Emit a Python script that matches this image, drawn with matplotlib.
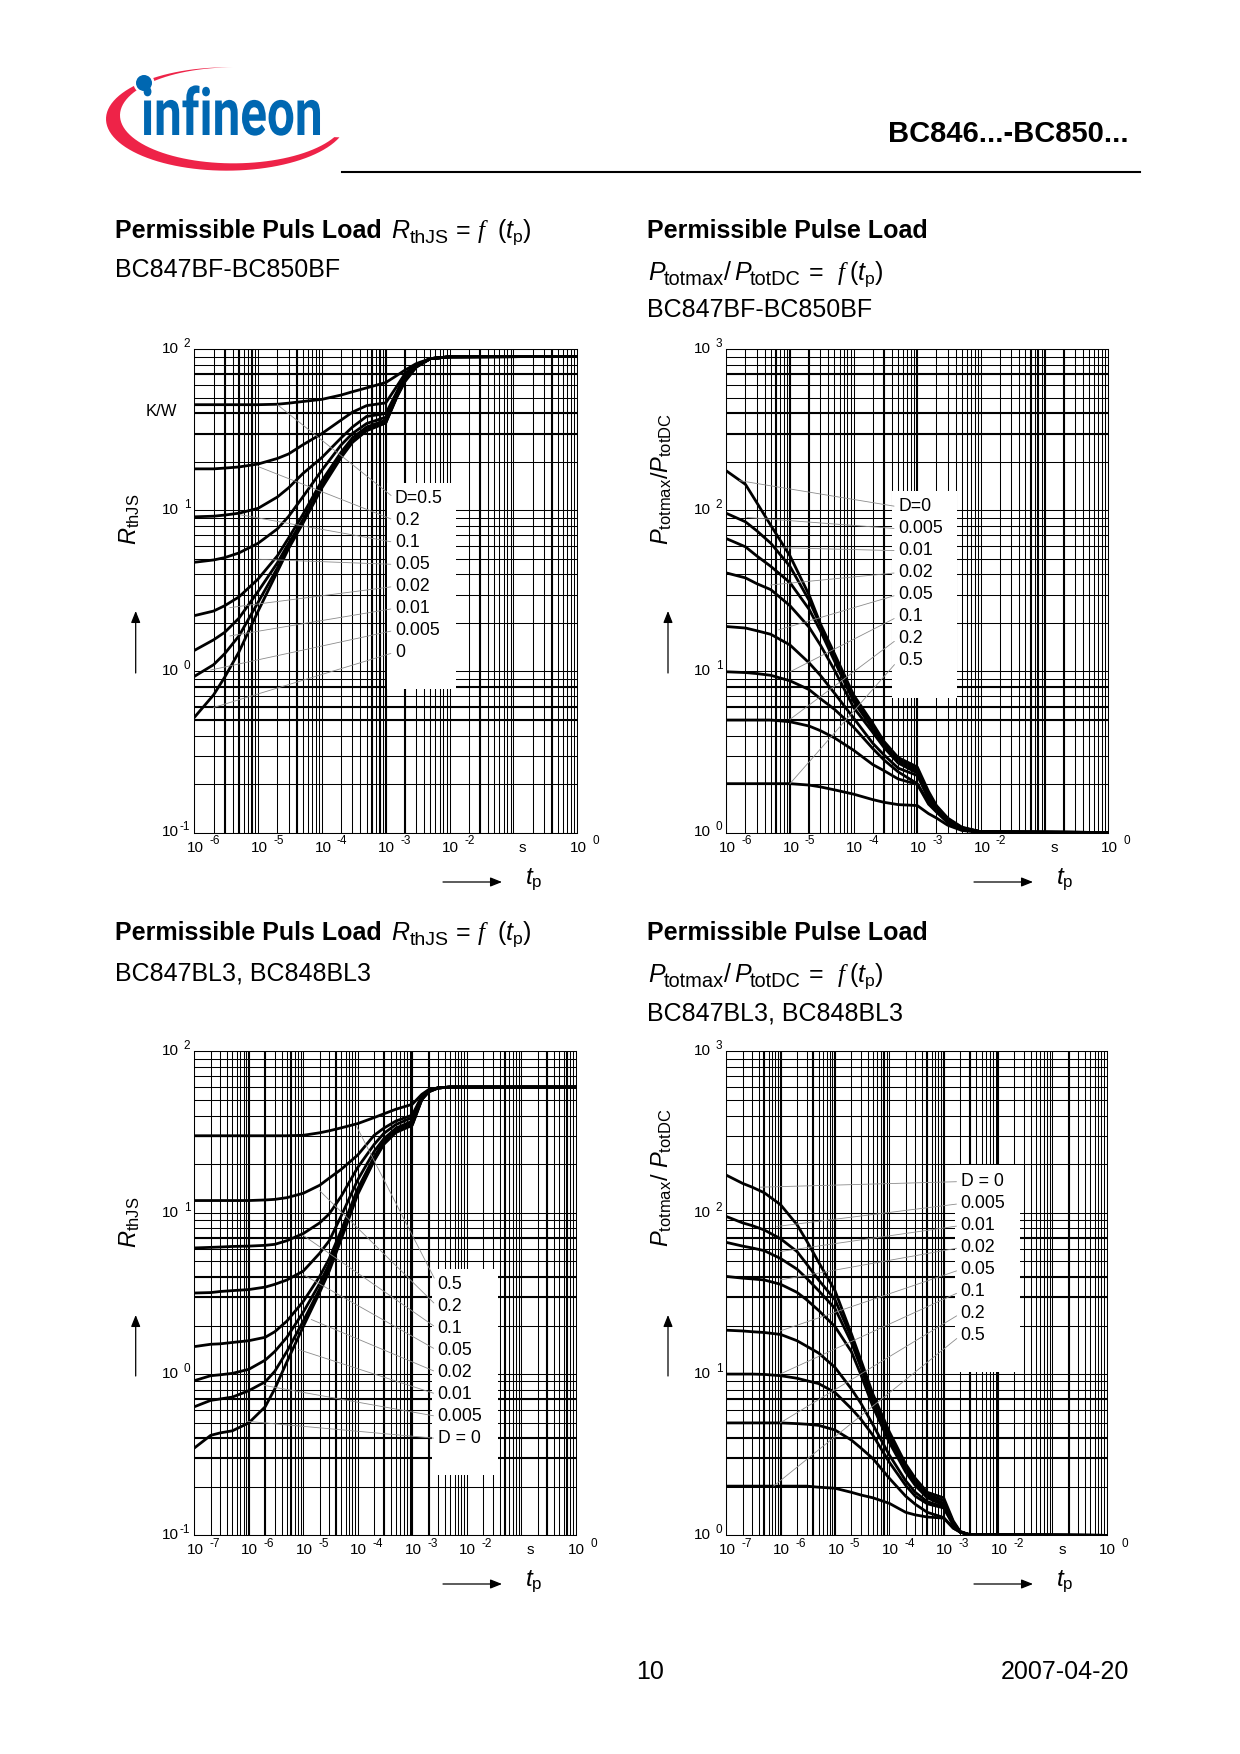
import matplotlib
matplotlib.use('Agg')
import matplotlib.pyplot as plt
import matplotlib.patheffects as pe
from matplotlib.patches import Circle, FancyArrowPatch, Rectangle
from matplotlib.ticker import LogLocator
from matplotlib.transforms import Affine2D
import numpy as np

plt.rcParams['font.family'] = ['Liberation Sans', 'DejaVu Sans']
plt.rcParams['mathtext.fontset'] = 'custom'
plt.rcParams['mathtext.rm'] = 'Liberation Sans'
plt.rcParams['mathtext.it'] = 'Liberation Sans:italic'
plt.rcParams['mathtext.bf'] = 'Liberation Sans:bold'

# pulse widths the curves were read at, seconds
T_BF = [1e-6, 2e-6, 3e-6, 5e-6, 1e-5, 2e-5, 3e-5, 5e-5, 1e-4, 2e-4, 3e-4, 5e-4, 1e-3,
        1.5e-3, 2e-3, 3e-3, 5e-3, 1e-2, 1]
T_L3_R = [1e-7, 2e-7, 3e-7, 5e-7, 1e-6, 2e-6, 3e-6, 5e-6, 1e-5, 2e-5, 3e-5, 5e-5, 1e-4,
          2e-4, 3e-4, 5e-4, 1e-3, 1.5e-3, 2e-3, 3e-3, 5e-3, 1]
T_L3_P = [1e-7, 2e-7, 3e-7, 5e-7, 1e-6, 2e-6, 3e-6, 5e-6, 1e-5, 2e-5, 3e-5, 5e-5, 1e-4,
          2e-4, 3e-4, 5e-4, 1e-3, 1.5e-3, 2e-3, 3e-3, 1]

# BC847BF thermal resistance, D = 0.5 ... 0
R_BF = [
    [45.3, 45.3, 45.3, 45.3, 45.3, 45.6, 46.3, 47.4, 48.9, 52, 54.5, 57.6, 62.2, 68.9, 74.3, 81.5, 87.5, 89.8, 90.3],
    [18.1, 18.1, 18.3, 18.6, 19.4, 21, 22.4, 25.5, 30, 36.4, 40.7, 44.7, 46.5, 59.2, 70.6, 80.3, 87.5, 89.8, 90.3],
    [9.12, 9.2, 9.35, 9.6, 10.3, 12.1, 13.8, 16.9, 21.3, 28.2, 32.9, 38.3, 39.9, 54.7, 68.9, 79.4, 87.5, 89.8, 90.3],
    [4.76, 4.92, 5.09, 5.44, 6.25, 7.67, 9.17, 12.1, 17.8, 25.5, 30, 34.6, 37.9, 53.3, 67.1, 79.1, 87.5, 89.8, 90.3],
    [2.22, 2.37, 2.56, 2.9, 3.75, 5.22, 6.74, 9.4, 15.3, 23, 28.2, 32.9, 36.4, 52, 65.5, 78.3, 87.5, 89.8, 90.3],
    [1.35, 1.57, 1.75, 2.14, 3.14, 4.72, 6.25, 8.71, 14.5, 22.1, 27, 32.1, 35.5, 51.5, 64.4, 78.3, 87.5, 89.8, 90.3],
    [0.931, 1.1, 1.29, 1.66, 2.69, 4.38, 5.94, 8.5, 14.2, 21.8, 26.8, 31.5, 35.1, 51.3, 63.8, 77.8, 87.5, 89.8, 90.3],
    [0.518, 0.714, 0.922, 1.32, 2.37, 4.16, 5.79, 8.28, 13.8, 21.3, 26.4, 31.2, 34.9, 50.7, 63.1, 77.4, 87.5, 89.8, 90.3],
]
# BC847BF power ratio, D = 0 ... 0.5
P_BF = [
    [176, 145, 112, 80.7, 52.2, 29.8, 19.8, 12.9, 7.14, 4.75, 3.68, 2.92, 2.55, 1.8, 1.47, 1.23, 1.08, 1.01, 1],
    [95.9, 84.9, 74.8, 62.5, 44.9, 27.6, 19.3, 12.2, 6.78, 4.51, 3.58, 2.85, 2.47, 1.75, 1.45, 1.21, 1.07, 1.01, 1],
    [66.8, 59.4, 52.2, 44.9, 35.6, 24.3, 17.9, 11.6, 6.51, 4.4, 3.49, 2.77, 2.42, 1.73, 1.43, 1.21, 1.07, 1.01, 1],
    [40.9, 38.1, 35.1, 32.2, 25.6, 18.8, 14.6, 10.2, 5.97, 4.18, 3.37, 2.7, 2.34, 1.69, 1.42, 1.2, 1.06, 1.01, 1],
    [19, 18.6, 17.9, 17, 14.6, 11.3, 9.46, 7.33, 5.13, 3.58, 3.03, 2.51, 2.26, 1.62, 1.39, 1.18, 1.06, 1.01, 1],
    [9.95, 9.84, 9.7, 9.46, 8.75, 7.71, 6.78, 5.82, 4.51, 3.32, 2.82, 2.38, 2.01, 1.54, 1.36, 1.17, 1.05, 1.01, 1],
    [4.99, 4.99, 4.99, 4.99, 4.87, 4.58, 4.29, 3.87, 3.24, 2.64, 2.42, 2.15, 1.99, 1.5, 1.34, 1.15, 1.04, 1.01, 1],
    [2.01, 2.01, 2.01, 2.01, 2.01, 1.97, 1.92, 1.84, 1.73, 1.6, 1.54, 1.49, 1.47, 1.31, 1.23, 1.11, 1.03, 1, 1],
]
# BC847BL3 thermal resistance, D = 0.5 ... 0
R_L3 = [
    [30, 30, 30, 30, 30, 30, 30, 30, 30.2, 31.3, 32.2, 33.6, 35.7, 38.9, 41, 43.8, 47, 54.2, 57.9, 59.4, 60.1, 60.1],
    [11.9, 11.9, 11.9, 11.9, 11.9, 12, 12.1, 12.4, 13.2, 14.8, 16.4, 18.6, 22.8, 30.2, 33.4, 37, 40.3, 52.9, 57.7, 59.4, 60.1, 60.1],
    [6.05, 6.1, 6.13, 6.18, 6.21, 6.28, 6.37, 6.71, 7.43, 8.65, 9.84, 12.7, 19.1, 26.5, 31, 35.2, 38.9, 52.4, 57.5, 59.4, 60.1, 60.1],
    [3.18, 3.2, 3.25, 3.29, 3.34, 3.46, 3.6, 3.83, 4.35, 5.61, 6.71, 9.59, 16, 24, 28.7, 33.4, 37, 51.5, 57.5, 59.4, 60.1, 60.1],
    [1.48, 1.53, 1.54, 1.57, 1.61, 1.69, 1.83, 2.13, 2.82, 4.03, 5.2, 7.81, 14.1, 22.2, 27.7, 32.6, 36, 51.1, 56.5, 59.4, 60.1, 60.1],
    [0.91, 0.977, 0.99, 1.01, 1.07, 1.22, 1.38, 1.69, 2.42, 3.64, 4.82, 7.43, 13.7, 21.7, 27.2, 32.1, 35.5, 50.8, 56.5, 59.4, 60.1, 60.1],
    [0.627, 0.687, 0.701, 0.72, 0.789, 0.895, 1.04, 1.38, 2.13, 3.37, 4.58, 7.13, 13.3, 21.3, 26.9, 31.8, 35.2, 50.5, 56.2, 59.4, 60.1, 60.1],
    [0.348, 0.417, 0.432, 0.445, 0.498, 0.627, 0.81, 1.19, 1.97, 3.21, 4.35, 6.89, 13, 21, 26.5, 31.4, 34.8, 50.2, 56, 59.4, 60.1, 60.1],
]
# BC847BL3 power ratio, D = 0 ... 0.5
P_L3 = [
    [171, 152, 144, 133, 112, 84.3, 67.1, 49.4, 32.9, 17.8, 12.2, 7.5, 4.39, 2.77, 2.26, 1.85, 1.71, 1.23, 1.06, 1.01, 1],
    [94.8, 86.5, 83.2, 78.2, 68.9, 57.5, 48.2, 38.3, 28.9, 16.9, 11.6, 7.11, 4.17, 2.67, 2.18, 1.8, 1.64, 1.21, 1.05, 1.01, 1],
    [65.5, 62.1, 60.5, 58.2, 52, 44.7, 39.3, 32.9, 25.5, 15.7, 11, 6.76, 4.02, 2.59, 2.11, 1.75, 1.58, 1.2, 1.05, 1.01, 1],
    [40.3, 39.3, 38.9, 38.3, 36, 32.1, 28.9, 24.8, 19.7, 13.8, 9.91, 6.27, 3.77, 2.47, 2.04, 1.71, 1.54, 1.18, 1.05, 1.01, 1],
    [18.7, 18.5, 18.3, 18.1, 17.6, 16.1, 14.9, 13.5, 11, 8.09, 6.59, 4.85, 3.15, 2.18, 1.85, 1.62, 1.5, 1.17, 1.05, 1.01, 1],
    [10, 10, 10, 9.95, 9.77, 9.42, 9.1, 8.73, 7.69, 6.11, 5.25, 4.17, 2.84, 2.04, 1.75, 1.57, 1.48, 1.16, 1.05, 1.01, 1],
    [4.98, 4.98, 4.98, 4.98, 4.98, 4.93, 4.89, 4.81, 4.5, 3.9, 3.48, 2.99, 2.26, 1.75, 1.56, 1.39, 1.29, 1.11, 1.05, 1.01, 1],
    [2.02, 2.02, 2.02, 2.02, 2.02, 2.02, 2.02, 1.99, 1.96, 1.85, 1.78, 1.71, 1.58, 1.39, 1.34, 1.3, 1.28, 1.11, 1.05, 1.01, 1],
]

LABELS_R_BF = ['D=0.5', '0.2', '0.1', '0.05', '0.02', '0.01', '0.005', '0']
LABELS_P_BF = ['D=0', '0.005', '0.01', '0.02', '0.05', '0.1', '0.2', '0.5']
LABELS_R_L3 = ['0.5', '0.2', '0.1', '0.05', '0.02', '0.01', '0.005', 'D = 0']
LABELS_P_L3 = ['D = 0', '0.005', '0.01', '0.02', '0.05', '0.1', '0.2', '0.5']

# where the thin leader lines leave the curves
LEAD_R_BF = [(2e-5, 45.3), (1e-5, 18.7), (5.2e-6, 9.4), (1e-5, 4.97), (3.6e-6, 2.49), (3.6e-6, 1.66), (1.8e-6, 1.02), (2e-6, 0.597)]
LEAD_P_BF = [(1.6e-6, 153), (2.1e-6, 90.4), (6.2e-6, 58.7), (4.9e-6, 34.4), (6.6e-6, 18.1), (1e-5, 9.95), (1e-5, 5.04), (1e-5, 2.01)]
LEAD_R_L3 = [(9.5e-5, 34.3), (2e-5, 13.7), (1e-5, 7.24), (1e-5, 4.13), (1.4e-5, 2.18), (8.1e-6, 1.42), (1.9e-6, 0.851), (9.1e-7, 0.51)]
LEAD_P_L3 = [(4.2e-7, 144), (8.5e-7, 82.2), (9.8e-7, 57.5), (9.8e-7, 38.3), (9.8e-7, 18.5), (9.8e-7, 10), (9.8e-7, 4.98), (7.4e-7, 2.02)]

# grid lines that come out heavier in the scan
HEAVY_Y_R_BF = [70, 40, 30, 0.8, 0.6, 0.5]
HEAVY_Y_P_BF = [700, 400, 300, 8, 6, 5]
HEAVY_Y_R_L3 = [7, 4, 3, 0.7, 0.4, 0.3]
HEAVY_Y_P_L3 = [70, 40, 30, 7, 4, 3]
HEAVY_X_R_BF = [3e-6, 5e-6, 8e-6, 4e-5, 6e-4, 8e-4, 1e-3, 2e-3, 3e-2, 4e-1]
HEAVY_X_P_BF = [6e-6, 1e-5, 2e-5, 3e-4, 1e-3, 6e-2, 8e-2, 1e-1, 2e-1]
HEAVY_X_R_L3 = [1e-6, 2e-6, 6e-6, 4e-5, 3e-4, 1e-3, 2e-3, 5e-2, 3e-1, 7e-1]
HEAVY_X_P_L3 = [5e-7, 1e-6, 4e-6, 1e-5, 8e-5, 5e-4, 1e-3, 3e-3, 1e-2, 2e-1]

W, H = 1240, 1754
GRAY = '#8c8c8c'
fig = plt.figure(figsize=(W / 100, H / 100), dpi=100, facecolor='white')


def make_ax(box):
  l, t, r, b = box
  return fig.add_axes([l / W, 1 - b / H, (r - l) / W, (b - t) / H])


class SqueezeX(pe.AbstractPathEffect):
  # logo lettering is much narrower than any installed font
  def __init__(self, sx, x0):
    super().__init__()
    self.sx, self.x0 = sx, x0

  def draw_path(self, renderer, gc, tpath, affine, rgbFace=None):
    squeeze = Affine2D().translate(-self.x0, 0).scale(self.sx, 1).translate(self.x0, 0)
    renderer.draw_path(gc, tpath, affine + squeeze, rgbFace)


def draw_panel(box, t, curves, labels, leads, xmin, ymin, ymax, heavy_x, heavy_y, lab_xy, white, s_x):
  ax = make_ax(box)
  ax.set_xscale('log')
  ax.set_yscale('log')
  ax.set_xlim(xmin, 1)
  ax.set_ylim(ymin, ymax)
  for axis in (ax.xaxis, ax.yaxis):
    axis.set_major_locator(LogLocator(base=10, numticks=12))
    axis.set_minor_locator(LogLocator(base=10, subs=range(2, 10), numticks=12))
  ax.tick_params(which='both', length=0, labelbottom=False, labelleft=False)
  ax.grid(which='both', color='black', lw=0.75)
  ax.set_axisbelow(True)
  for s in ax.spines.values():
    s.set_linewidth(0.75)
  for v in heavy_x:
    ax.axvline(v, color='black', lw=1.5, zorder=1)
  for v in heavy_y:
    ax.axhline(v, color='black', lw=1.5, zorder=1)
  x0, y0, x1, y1 = white
  ax.add_patch(Rectangle((x0, y0), x1 - x0, y1 - y0, transform=ax.transAxes, fc='white', ec='none', zorder=3))
  for c in curves:
    ax.plot(t, c, color='black', lw=2.0, zorder=4, solid_joinstyle='round')
  fx, fy = lab_xy
  for i, (lab, lead) in enumerate(zip(labels, leads)):
    ax.annotate(lab, xy=lead, xycoords='data', xytext=(fx, fy - 0.002 - i * 0.0454), textcoords='axes fraction',
                fontsize=12.7, va='center', ha='left', zorder=5,
                arrowprops=dict(arrowstyle='-', color=GRAY, lw=0.6, shrinkA=1, shrinkB=0, relpos=(0, 0.5)))
  # tick labels, the exponent sits apart from the 10 like in the original
  xtr = ax.get_xaxis_transform()
  ytr = ax.get_yaxis_transform()
  e = round(-np.log10(xmin))
  for k in list(range(-e, -1)) + [0]:
    ax.annotate('10', xy=(10.0 ** k, 0), xycoords=xtr, xytext=(1, -19), textcoords='offset pixels',
                ha='center', va='baseline', fontsize=11, annotation_clip=False)
    ax.annotate(str(k), xy=(10.0 ** k, 0), xycoords=xtr, xytext=(15, -12), textcoords='offset pixels',
                ha='left', va='baseline', fontsize=8.5, annotation_clip=False)
  for k in range(round(np.log10(ymin)), round(np.log10(ymax)) + 1):
    ax.annotate('10', xy=(0, 10.0 ** k), xycoords=ytr, xytext=(-15, -4), textcoords='offset pixels',
                ha='right', va='baseline', fontsize=11, annotation_clip=False)
    ax.annotate(str(k), xy=(0, 10.0 ** k), xycoords=ytr, xytext=(-4, 2), textcoords='offset pixels',
                ha='right', va='baseline', fontsize=8.5, annotation_clip=False)
  ax.annotate('s', xy=(s_x, 0), xycoords='axes fraction', xytext=(0, -19), textcoords='offset pixels',
              ha='center', va='baseline', fontsize=11, annotation_clip=False)
  return ax


draw_panel((194.3, 349.3, 577.3, 832.5), T_BF, R_BF, LABELS_R_BF, LEAD_R_BF, 1e-6, 0.1, 100,
           HEAVY_X_R_BF, HEAVY_Y_R_BF, (0.524, 0.693), (0.504, 0.297, 0.683, 0.724), 0.857)
draw_panel((726.3, 349.3, 1108.3, 832.5), T_BF, P_BF, LABELS_P_BF, LEAD_P_BF, 1e-6, 1, 1000,
           HEAVY_X_P_BF, HEAVY_Y_P_BF, (0.450, 0.676), (0.433, 0.279, 0.603, 0.706), 0.859)
draw_panel((194.3, 1051.4, 575.7, 1535.4), T_L3_R, R_L3, LABELS_R_L3, LEAD_R_L3, 1e-7, 0.1, 100,
           HEAVY_X_R_L3, HEAVY_Y_R_L3, (0.638, 0.520), (0.622, 0.124, 0.797, 0.551), 0.880)
draw_panel((726.3, 1051.4, 1106.7, 1535.4), T_L3_P, P_L3, LABELS_P_L3, LEAD_P_L3, 1e-7, 1, 1000,
           HEAVY_X_P_L3, HEAVY_Y_P_L3, (0.616, 0.733), (0.601, 0.337, 0.772, 0.765), 0.882)

# page layer in pixel coordinates for headings, arrows and the logo
page = fig.add_axes([0, 0, 1, 1], zorder=10)
page.set_xlim(0, W)
page.set_ylim(H, 0)
page.axis('off')


def txt(x, y, s, size=18, **kw):
  page.text(x, y, s, fontsize=size, va='baseline', **kw)


RTH = r'$\mathit{R}_{\mathregular{thJS}}$'
PT = r'$\mathit{P}_{\mathregular{totmax}}$'
PD = r'$\mathit{P}_{\mathregular{totDC}}$'
TP = r'$\mathit{t}_{\mathregular{p}}$'
SERIF_F = dict(family='Liberation Serif', style='italic')

txt(888, 142, 'BC846...-BC850...', size=21, weight='bold')
page.plot([342, 1140], [172, 172], color='black', lw=1.5)
txt(650, 1679, '10', ha='center')
txt(1129, 1679, '2007-04-20', ha='right')

for y_title, y_sub, dev in [(238, 277, 'BC847BF-BC850BF'), (940, 980, 'BC847BL3, BC848BL3')]:
  txt(115, y_title, 'Permissible Puls Load', weight='bold')
  txt(391, y_title, 'R', style='italic')
  txt(410, y_title + 5, 'thJS', size=14)
  txt(456, y_title, '=')
  txt(478, y_title, 'f', **SERIF_F)
  txt(497, y_title, '(' + TP + ')')
  txt(115, y_sub, dev)
for y_title, y_eq, y_dev, dev in [(238, 280, 317, 'BC847BF-BC850BF'), (940, 982, 1020, 'BC847BL3, BC848BL3')]:
  txt(647, y_title, 'Permissible Pulse Load', weight='bold')
  txt(648, y_eq, 'P', style='italic')
  txt(664, y_eq + 5, 'totmax', size=14.4)
  txt(724, y_eq, '/')
  txt(734, y_eq, 'P', style='italic')
  txt(750, y_eq + 5, 'totDC', size=14.4)
  txt(809, y_eq, '=')
  txt(838, y_eq, 'f', **SERIF_F)
  txt(849, y_eq, '(' + TP + ')')
  txt(647, y_dev, dev)

page.text(130, 519, RTH, fontsize=17, rotation=90, ha='center', va='center')
page.text(130, 1222, RTH, fontsize=17, rotation=90, ha='center', va='center')
page.text(662, 479, PT + '/' + PD, fontsize=17, rotation=90, ha='center', va='center')
page.text(662, 1178, PT + '/ ' + PD, fontsize=17, rotation=90, ha='center', va='center')
page.text(146, 412, 'K/W', fontsize=12, va='center')

for x, y0, y1 in [(135.7, 673, 611), (668, 673, 611), (135.7, 1376, 1315), (668, 1376, 1315)]:
  page.add_patch(FancyArrowPatch((x, y0), (x, y1), arrowstyle='-|>,head_length=7,head_width=2.8', lw=0.9,
                                 color='black', shrinkA=0, shrinkB=0))
for x0, y in [(443, 882), (974, 882), (443, 1584), (974, 1584)]:
  page.add_patch(FancyArrowPatch((x0, y), (x0 + 59, y), arrowstyle='-|>,head_length=7,head_width=2.8', lw=0.9,
                                 color='black', shrinkA=0, shrinkB=0))
  txt(x0 + 82, y + 2, TP, size=17.5)

# logo, outline is two offset ellipses in crop pixels of the original
RED = '#ee2348'
BLUE = '#0067b1'
a_out = np.radians(np.linspace(270, 20.8, 80))
a_in = np.radians(np.linspace(27, 270, 80))
sw_x = np.r_[410 + 362 * np.cos(a_out), 430 + 340 * np.cos(a_in)]
sw_y = np.r_[207 + 155 * np.sin(a_out), 196 + 144 * np.sin(a_in)]
page.fill(90 + sw_x / 3, 50 + sw_y / 3, color=RED, lw=0)
page.add_patch(Circle((144, 83), 10.5, fc='white', ec='none', zorder=3))
page.add_patch(Circle((144, 83), 8, fc=BLUE, ec='none', zorder=5))
page.text(141, 135, 'infineon', fontsize=47, family='Roboto', weight='bold', color=BLUE, va='baseline', zorder=4,
          path_effects=[SqueezeX(0.757, 141)])

fig.savefig('out.png', dpi=100)
